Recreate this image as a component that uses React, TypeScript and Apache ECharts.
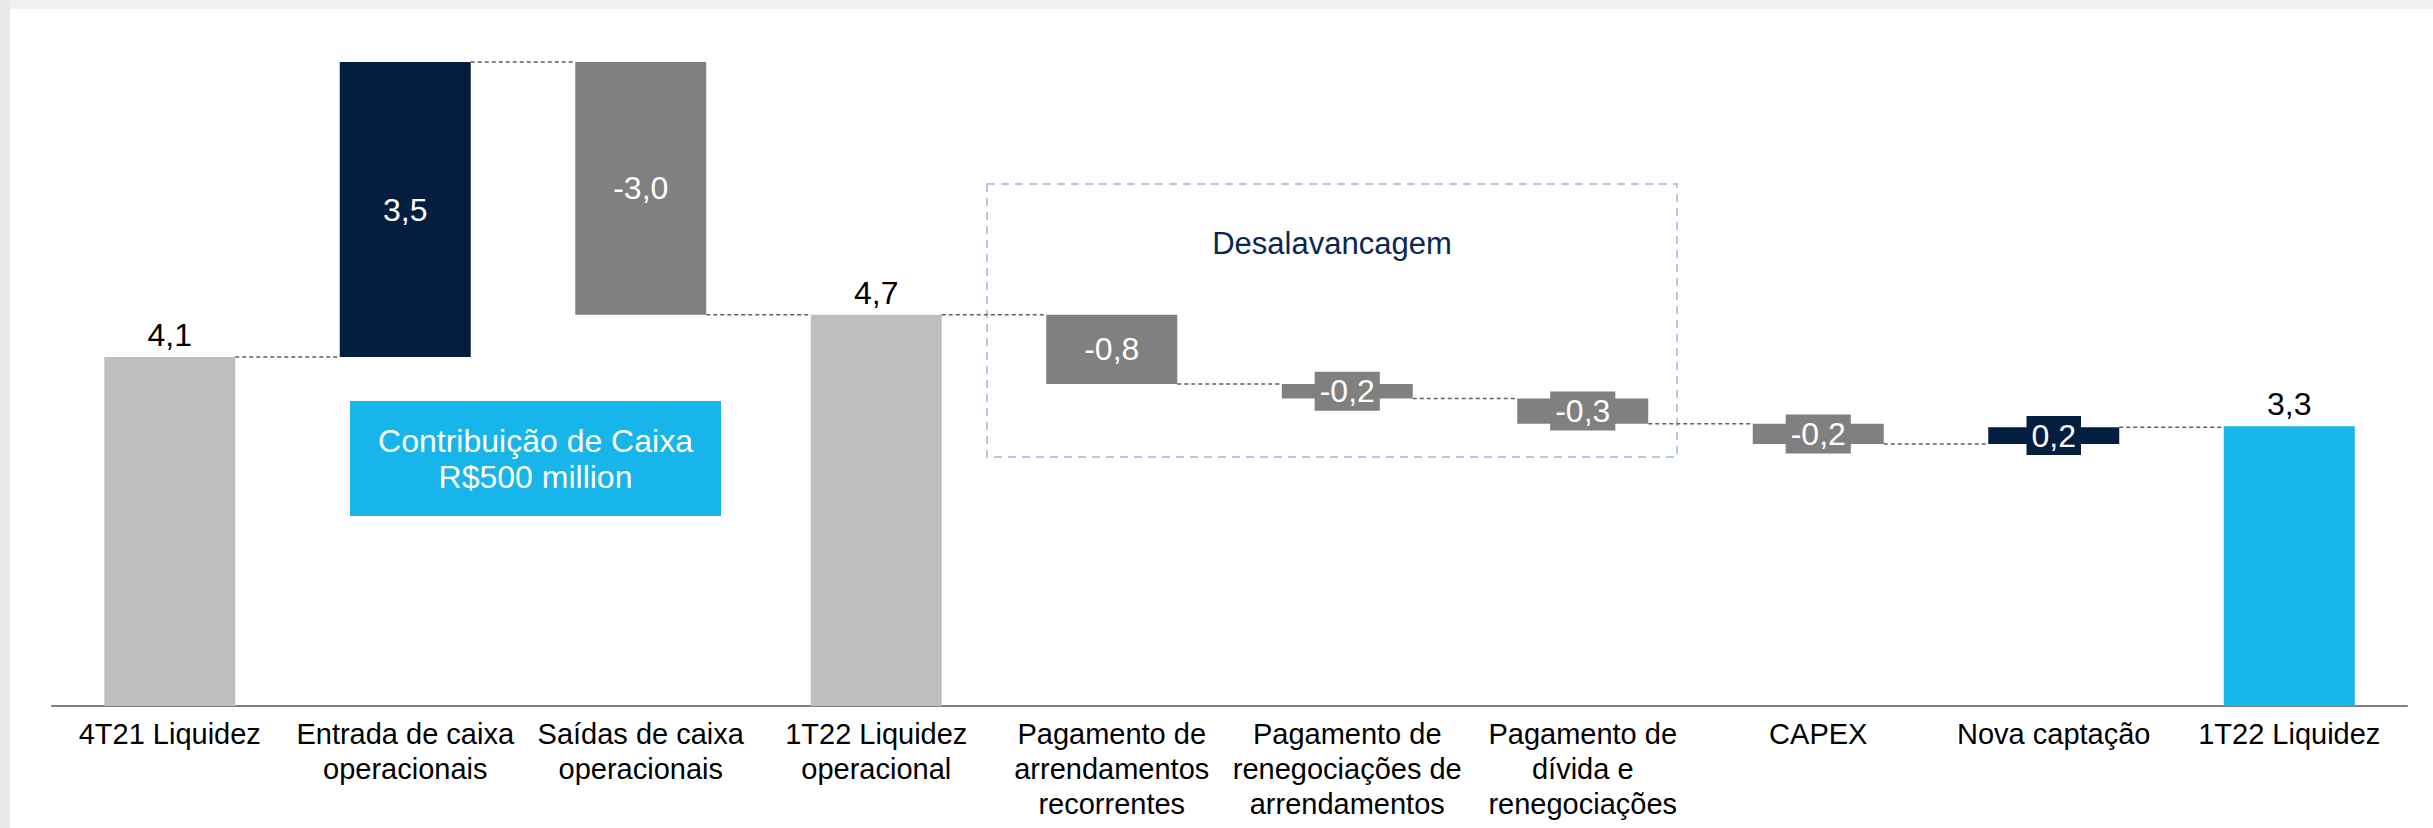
import React, { useEffect, useRef } from "react";
import * as echarts from "echarts";

const categories = [
  "4T21 Liquidez",
  "Entrada de caixa\noperacionais",
  "Saídas de caixa\noperacionais",
  "1T22 Liquidez\noperacional",
  "Pagamento de\narrendamentos\nrecorrentes",
  "Pagamento de\nrenegociações de\narrendamentos",
  "Pagamento de\ndívida e\nrenegociações",
  "CAPEX",
  "Nova captação",
  "1T22 Liquidez",
];

// "total" bars start at zero, "delta" bars float on the running level
const kinds = ["total", "delta", "delta", "total", "delta", "delta", "delta", "delta", "delta", "total"];

// bar extents as drawn in the picture (R$ bi)
const amounts = [4.13, 3.49, -2.99, 4.63, -0.82, -0.17, -0.3, -0.24, 0.2, 3.31];

// values printed on the bars
const shownValues = [4.1, 3.5, -3.0, 4.7, -0.8, -0.2, -0.3, -0.2, 0.2, 3.3];

const COLORS = {
  startTotal: "#bfbfbf",
  endTotal: "#17b5ea",
  up: "#041e42",
  down: "#808080",
};

const FONT = "'Liberation Sans', Arial, Helvetica, sans-serif";

function fmt(v: number) {
  return v.toFixed(1).replace(".", ",");
}

export default function App() {
  const ref = useRef<HTMLDivElement>(null);

  useEffect(() => {
    if (!ref.current) return;
    const chart = echarts.init(ref.current, undefined, { renderer: "svg" });

    const base: number[] = [];
    const height: number[] = [];
    const levelEnd: number[] = [];
    let level = 0;
    amounts.forEach((a, i) => {
      if (kinds[i] === "total") {
        base.push(0);
        height.push(a);
        level = a;
      } else {
        const next = level + a;
        base.push(Math.min(level, next));
        height.push(Math.abs(a));
        level = next;
      }
      levelEnd.push(level);
    });

    const barColor = (i: number) => {
      if (kinds[i] === "total") return i === amounts.length - 1 ? COLORS.endTotal : COLORS.startTotal;
      return amounts[i] >= 0 ? COLORS.up : COLORS.down;
    };

    const barData = height.map((h, i) => {
      const c = barColor(i);
      const isTotal = kinds[i] === "total";
      return {
        value: h,
        itemStyle: { color: c },
        label: isTotal
          ? {
              show: true,
              position: "top",
              distance: 6,
              color: "#000000",
              fontSize: 32,
              fontFamily: FONT,
            }
          : {
              show: true,
              position: "inside",
              color: "#ffffff",
              fontSize: 32,
              fontFamily: FONT,
              backgroundColor: c,
              padding: [4, 5],
              lineHeight: 31,
            },
      };
    });

    const connectorData = levelEnd.slice(0, -1).map((l, i) => [i, l]);
    const BAR_W = 131;

    chart.setOption({
      animation: false,
      backgroundColor: "#ffffff",
      grid: { left: 52, width: 2355, top: 30, height: 676, containLabel: false },
      xAxis: {
        type: "category",
        data: categories,
        axisLine: { show: true, lineStyle: { color: "#808080", width: 2 } },
        axisTick: { show: false },
        axisLabel: {
          interval: 0,
          color: "#000000",
          fontSize: 29,
          lineHeight: 35,
          margin: 10,
          fontFamily: FONT,
        },
      },
      yAxis: { type: "value", min: 0, max: 8, show: false, splitLine: { show: false } },
      series: [
        {
          type: "bar",
          stack: "w",
          data: base,
          barWidth: BAR_W,
          itemStyle: { color: "transparent" },
          silent: true,
          label: { show: false },
        },
        {
          type: "bar",
          stack: "w",
          data: barData,
          barWidth: BAR_W,
          label: { formatter: (p: any) => fmt(shownValues[p.dataIndex]) },
        },
        {
          type: "custom",
          coordinateSystem: "cartesian2d",
          encode: { x: 0, y: 1 },
          data: connectorData,
          silent: true,
          z: 3,
          renderItem: (_params: any, api: any) => {
            const i = api.value(0);
            const l = api.value(1);
            const p = api.coord([i, l]);
            const bw = api.size([1, 0])[0];
            return {
              type: "line",
              shape: { x1: p[0] + BAR_W / 2, y1: p[1], x2: p[0] + bw - BAR_W / 2, y2: p[1] },
              style: { stroke: "#5f5f5f", lineWidth: 1.5, lineDash: [4, 3] },
            };
          },
        },
      ],
      graphic: [
        { type: "rect", shape: { x: 0, y: 0, width: 2433, height: 9 }, style: { fill: "#f0f0f0" }, silent: true },
        { type: "rect", shape: { x: 0, y: 0, width: 10, height: 828 }, style: { fill: "#e9e9e9" }, silent: true },
        {
          type: "rect",
          shape: { x: 987, y: 184, width: 690, height: 273 },
          style: { fill: "none", stroke: "#b4c7e7", lineWidth: 2, lineDash: [8, 6] },
          silent: true,
        },
        {
          type: "text",
          x: 1332,
          y: 243,
          style: {
            text: "Desalavancagem",
            fill: "#0b2650",
            fontSize: 31,
            fontFamily: FONT,
            align: "center",
            verticalAlign: "middle",
          },
          silent: true,
        },
        {
          type: "rect",
          shape: { x: 350, y: 401, width: 371, height: 115 },
          style: { fill: "#17b5ea" },
          silent: true,
        },
        {
          type: "text",
          x: 535.5,
          y: 459,
          style: {
            text: "Contribuição de Caixa\nR$500 million",
            fill: "#ffffff",
            fontSize: 32,
            lineHeight: 36,
            fontFamily: FONT,
            align: "center",
            verticalAlign: "middle",
          },
          silent: true,
        },
      ],
    });

    return () => chart.dispose();
  }, []);

  return (
    <div
      ref={ref}
      style={{ position: "absolute", left: 0, top: 0, width: 2433, height: 828, background: "#ffffff" }}
    />
  );
}
